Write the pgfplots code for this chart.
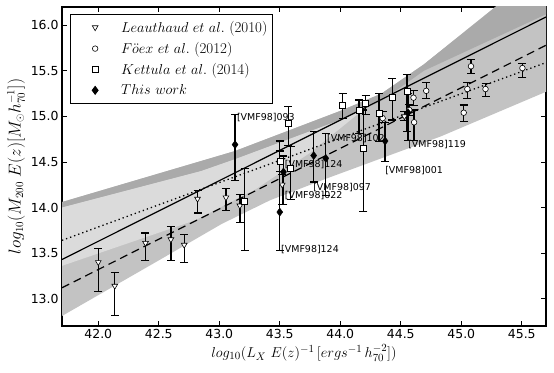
\documentclass[border=0pt]{standalone}
\usepackage{fontspec}
\usepackage{pgfplots}
\pgfplotsset{compat=1.18}
\newfontfamily\dejavu{DejaVu Sans}
\definecolor{bdark}{RGB}{170,170,170}
\definecolor{bmed}{RGB}{195,195,195}
\definecolor{blight}{RGB}{219,219,219}
\pgfplotsset{
  databar/.style={only marks, #1,
    legend image code/.code={\path[draw=none, fill=none] (-13bp,0bp) -- (0bp,0bp);
      \draw[mark repeat=2,mark phase=2,##1] plot coordinates {(0cm,0cm) (0.3cm,0cm) (0.6cm,0cm)};},
    error bars/.cd, y dir=both, y explicit, error bar style={line width=1.3bp, black},
    error mark options={rotate=90, mark size=4bp, line width=1.1bp, black}},
}

\begin{document}
\begin{tikzpicture}
\begin{axis}[name=ax, scale only axis, width=484bp, height=319bp,
  xmin=41.7, xmax=45.7, ymin=12.7, ymax=16.2,
  xtick={42,42.5,...,45.5}, ytick={13,13.5,...,16},
  tick align=inside, major tick length=5bp, tick style={line width=0.8bp, black},
  axis line style={line width=1.2bp},
  ticklabel style={font=\dejavu\fontsize{12.5}{15}\selectfont},
  xlabel style={font=\fontsize{15}{18}\selectfont, yshift=1bp},
  ylabel style={font=\fontsize{16}{19}\selectfont, yshift=-1bp},
  xlabel={$log_{10}(L_X\ E(z)^{-1}\,[ergs^{-1}\,h_{70}^{-2}])$},
  ylabel={$log_{10}(M_{200}\ E(z)[M_{\odot}h_{70}^{-1}])$},
  legend style={at={(0.016,0.979)}, anchor=north west, draw=black, line width=0.8bp,
    fill=white, font=\fontsize{15}{18}\selectfont, row sep=4.5bp, column sep=21bp,
    inner xsep=3.5bp, inner ysep=5bp},
  legend cell align=left,
  /pgf/number format/fixed, /pgf/number format/fixed zerofill,
  /pgf/number format/precision=1, /pgf/number format/assume math mode=true,
]
% confidence bands
\addplot[draw=none, fill=bmed, forget plot] coordinates {
 (41.6,14.02) (41.7,14.06) (43.13,14.62) (44.0,15.06) (44.34,15.25) (44.69,15.57) (45.3,16.22) (45.8,16.9)
 (45.8,15.33) (45.7,15.27) (44.83,14.78) (43.89,14.32) (43.42,14.08) (43.02,13.82) (42.5,13.42) (41.7,12.81) (41.6,12.74)
} -- cycle;
\addplot[draw=none, fill=bdark, forget plot] coordinates {
 (41.6,14.02) (41.7,14.06) (43.13,14.62) (44.0,15.06) (44.34,15.25) (44.69,15.57) (45.3,16.22) (45.8,16.9)
 (45.8,16.18) (45.7,16.12) (44.69,15.50) (44.34,15.17) (44.0,14.96) (43.13,14.53) (42.85,14.40) (41.7,14.0) (41.6,13.96)
} -- cycle;
\addplot[draw=none, fill=blight, forget plot] coordinates {
 (41.6,13.96) (41.7,14.0) (42.85,14.40) (43.13,14.53) (44.0,14.96) (44.2,15.084)
 (43.75,14.6) (43.3,14.2) (42.8,13.86) (41.7,13.36) (41.6,13.32)
} -- cycle;
% fits
\addplot[black, line width=1.2bp, forget plot] coordinates {(41.7,13.43) (45.7,16.09)};
\addplot[black, line width=1.2bp, dash pattern=on 8bp off 5bp, forget plot] coordinates {(41.7,13.12) (45.7,15.78)};
\addplot[black, line width=1.3bp, dash pattern=on 1.3bp off 3bp, forget plot] coordinates {(41.7,13.64) (45.7,15.59)};

% Leauthaud et al. (2010)
\addplot[databar={mark=triangle*, mark size=3.3bp, mark options={rotate=180, fill=white, draw=black, line width=0.6bp}}]
 table[x=x, y=y, y error plus=ep, y error minus=em] {
 x      y      ep    em
 42.00  13.40  0.15  0.32
 42.136 13.14  0.15  0.32
 42.39  13.61  0.11  0.19
 42.60  13.65  0.14  0.23
 42.71  13.59  0.11  0.19
 42.82  14.095 0.095 0.155
 43.055 14.11  0.10  0.14
 43.17  14.02  0.12  0.18
 43.52  14.25  0.11  0.22
 44.53  15.00  0.05  0.05
};
\addlegendentry{$Leauthaud\ et\ al.$ (2010)}

% Foex et al. (2012)
\addplot[databar={mark=*, mark size=2.8bp, mark options={fill=white, draw=black, line width=0.6bp}}]
 table[x=x, y=y, y error plus=ep, y error minus=em] {
 x      y      ep    em
 44.35  14.98  0.07  0.05
 44.605 15.205 0.075 0.085
 44.57  15.07  0.06  0.06
 44.61  14.935 0.135 0.195
 44.71  15.28  0.09  0.08
 45.02  15.04  0.085 0.10
 45.05  15.30  0.07  0.10
 45.08  15.55  0.07  0.08
 45.20  15.30  0.06  0.08
 45.505 15.53  0.05  0.10
};
\addlegendentry{$F\ddot{o}ex\ et\ al.$ (2012)}

% Kettula et al. (2014)
\addplot[databar={mark=square*, mark size=3bp, mark options={fill=white, draw=black, line width=0.6bp}}]
 table[x=x, y=y, y error plus=ep, y error minus=em] {
 x      y      ep    em
 43.21  14.065 0.365 0.54
 43.57  14.92  0.19  0.24
 43.59  14.43  0.235 0.34
 43.50  14.51  0.11  0.11
 44.02  15.12  0.13  0.14
 44.155 15.07  0.11  0.26
 44.19  14.65  0.42  0.695
 44.21  15.14  0.09  0.12
 44.32  15.03  0.22  0.31
 44.43  15.21  0.21  0.25
 44.55  15.27  0.19  0.44
};
\addlegendentry{$Kettula\ et\ al.$ (2014)}

% This work
\addplot[databar={mark=diamond*, mark size=4bp, mark options={fill=black, draw=black}}]
 table[x=x, y=y, y error plus=ep, y error minus=em] {
 x      y      ep    em
 43.13  14.69  0.33  0.39
 43.50  13.95  0.78  0.42
 43.53  14.39  0.175 0.36
 43.78  14.57  0.26  0.29
 43.88  14.54  0.27  0.41
 44.37  14.73  0.20  0.23
 44.56  15.04  0.21  0.30
};
\addlegendentry{$This\ work$}

% cluster names
\begin{scope}[every node/.style={anchor=west, inner sep=0pt, font=\dejavu\fontsize{9.5}{11}\selectfont}]
\node at (axis cs:43.145,14.99) {[VMF98]093};
\node at (axis cs:43.54,14.47) {[VMF98]124};
\node at (axis cs:43.54,14.13) {[VMF98]022};
\node at (axis cs:43.51,13.54) {[VMF98]124};
\node at (axis cs:43.775,14.215) {[VMF98]097};
\node at (axis cs:43.89,14.76) {[VMF98]102};
\node at (axis cs:44.37,14.41) {[VMF98]001};
\node at (axis cs:44.56,14.69) {[VMF98]119};
\end{scope}
\end{axis}
\path ([xshift=-62bp,yshift=-46bp]ax.south west) rectangle ([xshift=8bp,yshift=7bp]ax.north east);
\end{tikzpicture}
\end{document}
